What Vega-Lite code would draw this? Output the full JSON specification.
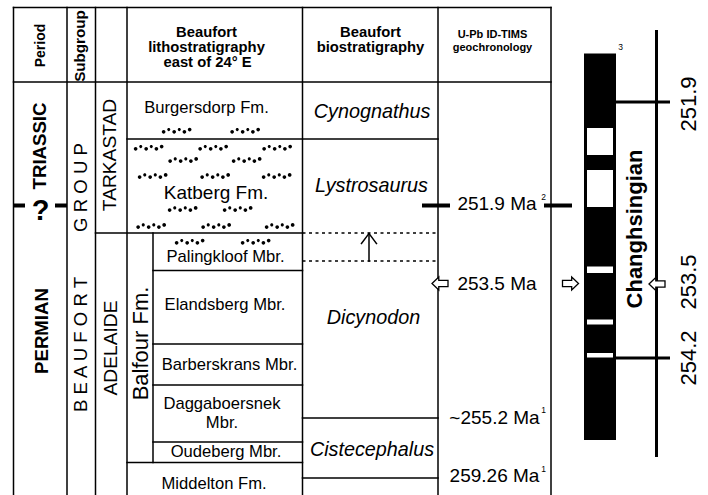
{
 "$schema": "https://vega.github.io/schema/vega-lite/v6.json",
 "width": 708, "height": 495, "padding": 0,
 "autosize": {"type": "none"},
 "background": "#ffffff",
 "config": {"view": {"stroke": null}},
 "datasets": {
  "thin": [
   {"x":13.5,"x2":551,"y":7.5,"y2":7.5},
   {"x":13.5,"x2":551,"y":82,"y2":82},
   {"x":13.5,"x2":13.5,"y":7.5,"y2":495},
   {"x":67,"x2":67,"y":7.5,"y2":495},
   {"x":95.5,"x2":95.5,"y":7.5,"y2":495},
   {"x":127,"x2":127,"y":7.5,"y2":495},
   {"x":302.5,"x2":302.5,"y":7.5,"y2":495},
   {"x":438,"x2":438,"y":7.5,"y2":495},
   {"x":551,"x2":551,"y":7.5,"y2":495},
   {"x":153,"x2":153,"y":233,"y2":462.5},
   {"x":127,"x2":438,"y":139,"y2":139},
   {"x":95.5,"x2":302.5,"y":233,"y2":233},
   {"x":153,"x2":302.5,"y":270.5,"y2":270.5},
   {"x":153,"x2":302.5,"y":344,"y2":344},
   {"x":153,"x2":302.5,"y":385,"y2":385},
   {"x":153,"x2":302.5,"y":442,"y2":442},
   {"x":127,"x2":302.5,"y":462.5,"y2":462.5},
   {"x":302.5,"x2":438,"y":418,"y2":418},
   {"x":302.5,"x2":438,"y":478,"y2":478},
   {"x":369,"x2":369,"y":234,"y2":261},
   {"x":361.5,"x2":369,"y":243.5,"y2":233.5},
   {"x":376.5,"x2":369,"y":243.5,"y2":233.5}
  ],
  "dashed": [
   {"x":302.5,"x2":438,"y":233,"y2":233},
   {"x":302.5,"x2":438,"y":261,"y2":261}
  ],
  "thick": [
   {"x":13.5,"x2":25,"y":205.5,"y2":205.5},
   {"x":55,"x2":67,"y":205.5,"y2":205.5},
   {"x":422,"x2":450,"y":205.5,"y2":205.5},
   {"x":544,"x2":572,"y":205.5,"y2":205.5}
  ],
  "magline": [
   {"x":656.5,"x2":656.5,"y":30,"y2":457},
   {"x":616,"x2":670,"y":102,"y2":102},
   {"x":616,"x2":670,"y":358,"y2":358}
  ],
  "blackbox": [
   {"x":584,"x2":616,"y":53.5,"y2":440}
  ],
  "whitebox": [
   {"x":587,"x2":613,"y":128,"y2":155},
   {"x":587,"x2":613,"y":170,"y2":207},
   {"x":587,"x2":613,"y":266.5,"y2":273},
   {"x":587,"x2":613,"y":319.5,"y2":324.5},
   {"x":587,"x2":613,"y":353,"y2":357.5}
  ],
  "arrowL": [
   {"x":440,"y":283.5},
   {"x":657,"y":284}
  ],
  "arrowR": [
   {"x":570.5,"y":283.5}
  ],
  "sand": [
   {"x":176.5,"y":130.7},{"x":245,"y":130.7},
   {"x":148.5,"y":147.7},{"x":213,"y":147.7},{"x":277,"y":147.7},
   {"x":183,"y":160},{"x":246.5,"y":160},
   {"x":152.5,"y":176},{"x":215,"y":176},{"x":276.5,"y":176},
   {"x":182.5,"y":209},{"x":237.5,"y":209},
   {"x":151,"y":226},{"x":216,"y":226},{"x":279.5,"y":226},
   {"x":189.5,"y":241.7},{"x":255.5,"y":241.7}
  ],
  "tHead": [
   {"x":206.5,"y":36.5,"text":"Beaufort"},
   {"x":206.5,"y":51.5,"text":"lithostratigraphy"},
   {"x":207.5,"y":66.5,"text":"east of 24° E"},
   {"x":370.5,"y":36.5,"text":"Beaufort"},
   {"x":370.5,"y":51.5,"text":"biostratigraphy"}
  ],
  "tHeadNarrow": [
   {"x":492.5,"y":37.5,"text":"U-Pb ID-TIMS"},
   {"x":492.5,"y":50.5,"text":"geochronology"}
  ],
  "tPeriodHead": [
   {"x":45,"y":45.5,"text":"Period"}
  ],
  "tSubgroupHead": [
   {"x":85,"y":46,"text":"Subgroup"}
  ],
  "tPeriods": [
   {"x":46,"y":146,"text":"TRIASSIC"},
   {"x":48,"y":331,"text":"PERMIAN"}
  ],
  "tQ": [
   {"x":40.5,"y":220,"text":"?"}
  ],
  "tGroup": [
   {"x":86.5,"y":187.5,"text":"G R O U P"},
   {"x":86.5,"y":344.5,"text":"B E A U F O R T"}
  ],
  "tSubgroups": [
   {"x":116,"y":155,"text":"TARKASTAD"},
   {"x":117,"y":348,"text":"ADELAIDE"}
  ],
  "tBalfour": [
   {"x":147.5,"y":343.5,"text":"Balfour Fm."}
  ],
  "tLitho": [
   {"x":206.5,"y":113,"text":"Burgersdorp Fm."},
   {"x":225.5,"y":262,"text":"Palingkloof Mbr."},
   {"x":225,"y":310,"text":"Elandsberg Mbr."},
   {"x":229.5,"y":370,"text":"Barberskrans Mbr."},
   {"x":222,"y":409,"text":"Daggaboersnek"},
   {"x":222,"y":428,"text":"Mbr."},
   {"x":226,"y":457,"text":"Oudeberg Mbr."},
   {"x":214,"y":489,"text":"Middelton Fm."}
  ],
  "tKatberg": [
   {"x":216,"y":199,"text":"Katberg Fm."}
  ],
  "tBio": [
   {"x":372,"y":118,"text":"Cynognathus"},
   {"x":371.5,"y":192,"text":"Lystrosaurus"},
   {"x":373.5,"y":324,"text":"Dicynodon"},
   {"x":372,"y":456,"text":"Cistecephalus"}
  ],
  "tAge": [
   {"x":497,"y":210,"text":"251.9 Ma"},
   {"x":497,"y":290,"text":"253.5 Ma"},
   {"x":494.5,"y":424,"text":"~255.2 Ma"},
   {"x":494.5,"y":482,"text":"259.26 Ma"}
  ],
  "tSup": [
   {"x":543.5,"y":200,"text":"2"},
   {"x":543.5,"y":413,"text":"1"},
   {"x":543.5,"y":472,"text":"1"},
   {"x":620.5,"y":50,"text":"3"}
  ],
  "tChang": [
   {"x":642,"y":229,"text":"Changhsingian"}
  ],
  "tNum": [
   {"x":696,"y":104,"text":"251.9"},
   {"x":696,"y":282,"text":"253.5"},
   {"x":696,"y":358,"text":"254.2"}
  ]
 },
 "encoding": {
  "x": {"field":"x","type":"quantitative","scale":{"domain":[0,708],"nice":false,"zero":false},"axis":null},
  "y": {"field":"y","type":"quantitative","scale":{"domain":[0,495],"nice":false,"zero":false,"reverse":true},"axis":null}
 },
 "layer": [
  {"data":{"name":"blackbox"},"mark":{"type":"rect","fill":"#000000"},"encoding":{"x2":{"field":"x2"},"y2":{"field":"y2"}}},
  {"data":{"name":"whitebox"},"mark":{"type":"rect","fill":"#ffffff"},"encoding":{"x2":{"field":"x2"},"y2":{"field":"y2"}}},
  {"data":{"name":"thin"},"mark":{"type":"rule","color":"#000000","strokeWidth":1.5,"strokeCap":"square"},"encoding":{"x2":{"field":"x2"},"y2":{"field":"y2"}}},
  {"data":{"name":"dashed"},"mark":{"type":"rule","color":"#000000","strokeWidth":1.3,"strokeDash":[3,3.5]},"encoding":{"x2":{"field":"x2"},"y2":{"field":"y2"}}},
  {"data":{"name":"thick"},"mark":{"type":"rule","color":"#000000","strokeWidth":4},"encoding":{"x2":{"field":"x2"},"y2":{"field":"y2"}}},
  {"data":{"name":"magline"},"mark":{"type":"rule","color":"#000000","strokeWidth":3},"encoding":{"x2":{"field":"x2"},"y2":{"field":"y2"}}},
  {"data":{"name":"sand"},"mark":{"type":"point","filled":true,"fill":"#000000","stroke":null,"opacity":1,"size":960,
    "shape":"M-0.95,0.07a0.12,0.12 0 1 0 0.24,0a0.12,0.12 0 1 0 -0.24,0ZM-0.6,-0.07a0.1,0.1 0 1 0 0.2,0a0.1,0.1 0 1 0 -0.2,0ZM-0.27,0.07a0.12,0.12 0 1 0 0.24,0a0.12,0.12 0 1 0 -0.24,0ZM0.08,-0.07a0.1,0.1 0 1 0 0.2,0a0.1,0.1 0 1 0 -0.2,0ZM0.39,0.07a0.12,0.12 0 1 0 0.24,0a0.12,0.12 0 1 0 -0.24,0ZM0.73,-0.07a0.12,0.12 0 1 0 0.24,0a0.12,0.12 0 1 0 -0.24,0Z"}},
  {"data":{"name":"arrowL"},"mark":{"type":"point","filled":true,"fill":"#ffffff","stroke":"#000000","strokeWidth":1.3,"opacity":1,"size":256,
    "shape":"M-1,0L-0.15,-0.8L-0.15,-0.38L1,-0.38L1,0.38L-0.15,0.38L-0.15,0.8Z"}},
  {"data":{"name":"arrowR"},"mark":{"type":"point","filled":true,"fill":"#ffffff","stroke":"#000000","strokeWidth":1.3,"opacity":1,"size":256,
    "shape":"M1,0L0.15,-0.8L0.15,-0.38L-1,-0.38L-1,0.38L0.15,0.38L0.15,0.8Z"}},
  {"data":{"name":"tHead"},"mark":{"type":"text","font":"Liberation Sans","fontSize":14.8,"fontWeight":"bold","align":"center","baseline":"alphabetic","color":"#000000"},"encoding":{"text":{"field":"text"}}},
  {"data":{"name":"tHeadNarrow"},"mark":{"type":"text","font":"Liberation Sans","fontSize":11,"fontWeight":"bold","align":"center","baseline":"alphabetic","color":"#000000"},"encoding":{"text":{"field":"text"}}},
  {"data":{"name":"tPeriodHead"},"mark":{"type":"text","font":"Liberation Sans","fontSize":14,"fontWeight":"bold","align":"center","baseline":"alphabetic","angle":270,"color":"#000000"},"encoding":{"text":{"field":"text"}}},
  {"data":{"name":"tSubgroupHead"},"mark":{"type":"text","font":"Liberation Sans","fontSize":15.2,"fontWeight":"bold","align":"center","baseline":"alphabetic","angle":270,"color":"#000000"},"encoding":{"text":{"field":"text"}}},
  {"data":{"name":"tPeriods"},"mark":{"type":"text","font":"Liberation Sans","fontSize":18.6,"fontWeight":"bold","align":"center","baseline":"alphabetic","angle":270,"color":"#000000"},"encoding":{"text":{"field":"text"}}},
  {"data":{"name":"tQ"},"mark":{"type":"text","font":"Liberation Sans","fontSize":29,"fontWeight":"bold","align":"center","baseline":"alphabetic","color":"#000000"},"encoding":{"text":{"field":"text"}}},
  {"data":{"name":"tGroup"},"mark":{"type":"text","font":"Liberation Sans","fontSize":18.6,"align":"center","baseline":"alphabetic","angle":270,"color":"#000000"},"encoding":{"text":{"field":"text"}}},
  {"data":{"name":"tSubgroups"},"mark":{"type":"text","font":"Liberation Sans","fontSize":19.2,"align":"center","baseline":"alphabetic","angle":270,"color":"#000000"},"encoding":{"text":{"field":"text"}}},
  {"data":{"name":"tBalfour"},"mark":{"type":"text","font":"Liberation Sans","fontSize":22,"align":"center","baseline":"alphabetic","angle":270,"color":"#000000"},"encoding":{"text":{"field":"text"}}},
  {"data":{"name":"tLitho"},"mark":{"type":"text","font":"Liberation Sans","fontSize":16.6,"align":"center","baseline":"alphabetic","color":"#000000"},"encoding":{"text":{"field":"text"}}},
  {"data":{"name":"tKatberg"},"mark":{"type":"text","font":"Liberation Sans","fontSize":19,"align":"center","baseline":"alphabetic","color":"#000000"},"encoding":{"text":{"field":"text"}}},
  {"data":{"name":"tBio"},"mark":{"type":"text","font":"Liberation Sans","fontSize":19.8,"fontStyle":"italic","align":"center","baseline":"alphabetic","color":"#000000"},"encoding":{"text":{"field":"text"}}},
  {"data":{"name":"tAge"},"mark":{"type":"text","font":"Liberation Sans","fontSize":19,"align":"center","baseline":"alphabetic","color":"#000000"},"encoding":{"text":{"field":"text"}}},
  {"data":{"name":"tSup"},"mark":{"type":"text","font":"Liberation Sans","fontSize":8.5,"align":"center","baseline":"alphabetic","color":"#000000"},"encoding":{"text":{"field":"text"}}},
  {"data":{"name":"tChang"},"mark":{"type":"text","font":"Liberation Sans","fontSize":22,"fontWeight":"bold","align":"center","baseline":"alphabetic","angle":270,"color":"#000000"},"encoding":{"text":{"field":"text"}}},
  {"data":{"name":"tNum"},"mark":{"type":"text","font":"Liberation Sans","fontSize":22,"align":"center","baseline":"alphabetic","angle":270,"color":"#000000"},"encoding":{"text":{"field":"text"}}}
 ]
}
